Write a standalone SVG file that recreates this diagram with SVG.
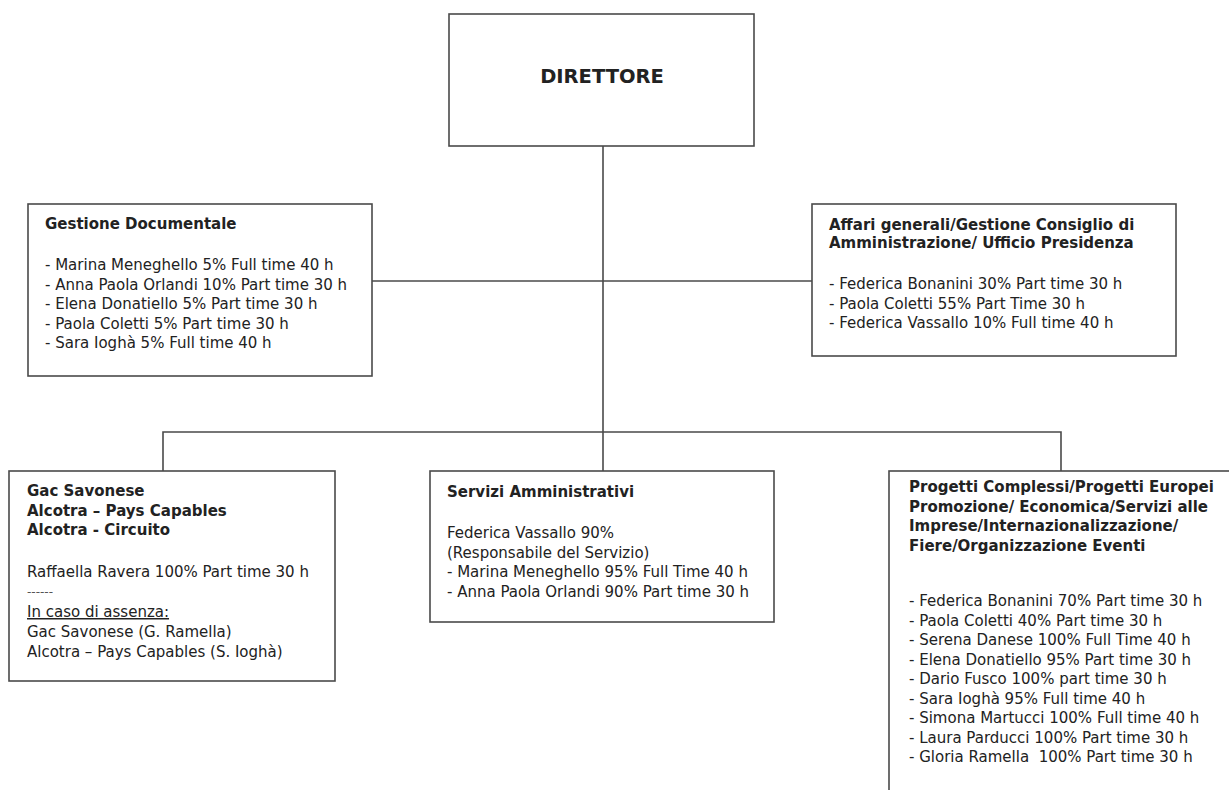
<svg xmlns="http://www.w3.org/2000/svg" width="1229" height="790" viewBox="0 0 1229 790">
<style>
.box{fill:#fff;stroke:#4a4a4a;stroke-width:1.6}
.ln{fill:none;stroke:#4a4a4a;stroke-width:1.6}
text{font-family:"DejaVu Sans",Verdana,sans-serif;font-size:15px;fill:#222}
.t{font-weight:bold}
.big{font-size:19.5px;font-weight:bold;text-anchor:middle}
</style>
<rect width="1229" height="790" fill="#fff"/>
<g id="connectors">
<line class="ln" x1="603" y1="146" x2="603" y2="432"/>
<line class="ln" x1="372" y1="281" x2="812" y2="281"/>
<polyline class="ln" points="163,471 163,432 1061,432 1061,471"/>
<line class="ln" x1="603" y1="432" x2="603" y2="471"/>
</g>
<g id="direttore">
<rect class="box" x="449" y="14" width="305" height="132"/>
<text class="big" x="602" y="83">DIRETTORE</text>
</g>
<g id="gestione-documentale">
<rect class="box" x="28" y="204" width="344" height="172"/>
<text class="t" x="45" y="229">Gestione Documentale</text>
<text x="45" y="270">- Marina Meneghello 5% Full time 40 h</text>
<text x="45" y="289.5">- Anna Paola Orlandi 10% Part time 30 h</text>
<text x="45" y="309">- Elena Donatiello 5% Part time 30 h</text>
<text x="45" y="328.5">- Paola Coletti 5% Part time 30 h</text>
<text x="45" y="348">- Sara Ioghà 5% Full time 40 h</text>
</g>
<g id="affari-generali">
<rect class="box" x="812" y="204" width="364" height="152"/>
<text class="t" x="829" y="230">Affari generali/Gestione Consiglio di</text>
<text class="t" x="829" y="248">Amministrazione/ Ufficio Presidenza</text>
<text x="829" y="289">- Federica Bonanini 30% Part time 30 h</text>
<text x="829" y="308.5">- Paola Coletti 55% Part Time 30 h</text>
<text x="829" y="328">- Federica Vassallo 10% Full time 40 h</text>
</g>
<g id="gac-savonese">
<rect class="box" x="9" y="471" width="326" height="210"/>
<text class="t" x="27" y="496">Gac Savonese</text>
<text class="t" x="27" y="515.5">Alcotra – Pays Capables</text>
<text class="t" x="27" y="535">Alcotra - Circuito</text>
<text x="27" y="577">Raffaella Ravera 100% Part time 30 h</text>
<text x="27" y="596" style="font-size:12px;fill:#555">------</text>
<text x="27" y="617" text-decoration="underline">In caso di assenza:</text>
<text x="27" y="637">Gac Savonese (G. Ramella)</text>
<text x="27" y="657">Alcotra – Pays Capables (S. Ioghà)</text>
</g>
<g id="servizi-amministrativi">
<rect class="box" x="430" y="471" width="344" height="151"/>
<text class="t" x="447" y="497">Servizi Amministrativi</text>
<text x="447" y="538">Federica Vassallo 90%</text>
<text x="447" y="557.5">(Responsabile del Servizio)</text>
<text x="447" y="577">- Marina Meneghello 95% Full Time 40 h</text>
<text x="447" y="596.5">- Anna Paola Orlandi 90% Part time 30 h</text>
</g>
<g id="progetti-complessi">
<rect class="box" x="889" y="471" width="360" height="340"/>
<text class="t" x="909" y="492">Progetti Complessi/Progetti Europei</text>
<text class="t" x="909" y="511.5">Promozione/ Economica/Servizi alle</text>
<text class="t" x="909" y="531">Imprese/Internazionalizzazione/</text>
<text class="t" x="909" y="550.5">Fiere/Organizzazione Eventi</text>
<text x="909" y="606">- Federica Bonanini 70% Part time 30 h</text>
<text x="909" y="625.5">- Paola Coletti 40% Part time 30 h</text>
<text x="909" y="645">- Serena Danese 100% Full Time 40 h</text>
<text x="909" y="664.5">- Elena Donatiello 95% Part time 30 h</text>
<text x="909" y="684">- Dario Fusco 100% part time 30 h</text>
<text x="909" y="703.5">- Sara Ioghà 95% Full time 40 h</text>
<text x="909" y="723">- Simona Martucci 100% Full time 40 h</text>
<text x="909" y="742.5">- Laura Parducci 100% Part time 30 h</text>
<text x="909" y="762" xml:space="preserve">- Gloria Ramella  100% Part time 30 h</text>
</g>
</svg>
